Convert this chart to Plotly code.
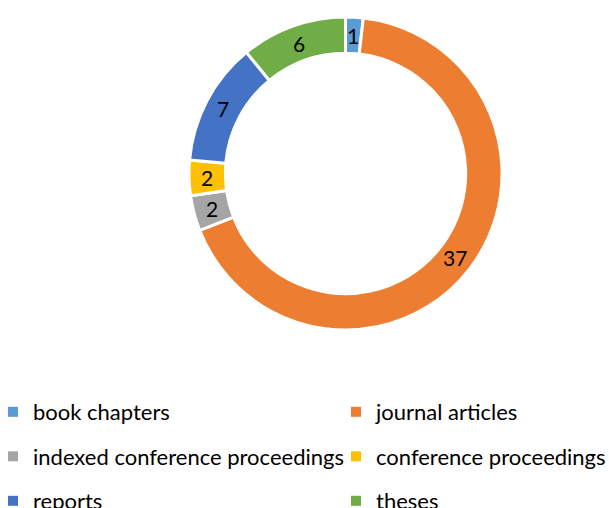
import math
import plotly.graph_objects as go

categories = ["book chapters", "journal articles", "indexed conference proceedings",
              "conference proceedings", "reports", "theses"]
values = [1, 37, 2, 2, 7, 6]
colors = ["#5B9BD5", "#ED7D31", "#A5A5A5", "#FFC000", "#4472C4", "#70AD47"]

W, H = 609, 508
CX, CY, R_OUT, HOLE = 345.5, 173.5, 156.5, 0.768
FONT = "Lato"
LEG_FS = 22

fig = go.Figure(go.Pie(
    labels=categories,
    values=values,
    sort=False,
    direction="clockwise",
    rotation=0,
    hole=HOLE,
    marker=dict(colors=colors, line=dict(color="white", width=3)),
    textinfo="none",
    showlegend=False,
    hovertemplate="%{label}: %{value}<extra></extra>",
    domain=dict(x=[(CX - R_OUT) / W, (CX + R_OUT) / W],
                y=[1 - (CY + R_OUT) / H, 1 - (CY - R_OUT) / H]),
))

# value labels at the middle of each ring segment, placed from the data
total = sum(values)
r_mid = R_OUT * (1 + HOLE) / 2
cum = 0
for v in values:
    ang = 2 * math.pi * (cum + v / 2) / total
    cum += v
    fig.add_annotation(
        x=(CX + r_mid * math.sin(ang)) / W,
        y=1 - (CY - r_mid * math.cos(ang)) / H,
        xref="paper", yref="paper", text=str(v), showarrow=False,
        font=dict(family=FONT, size=21, color="black"),
        xanchor="center", yanchor="middle",
    )

# two-column legend: left column = even entries, right column = odd entries
for i, (cat, col) in enumerate(zip(categories, colors)):
    fig.add_trace(go.Scatter(
        x=[None], y=[None], mode="markers", name=cat,
        marker=dict(symbol="square", size=10, color=col),
        legend="legend" if i % 2 == 0 else "legend2",
        legendgroup=cat, showlegend=True, hoverinfo="skip",
    ))

row_h = 1.3 * LEG_FS + 3
leg_common = dict(
    orientation="v", yanchor="top", xanchor="left",
    y=1 - 391 / H,
    font=dict(family=FONT, size=LEG_FS, color="black"),
    bgcolor="rgba(0,0,0,0)", borderwidth=0,
    tracegroupgap=44.5 - row_h, itemwidth=30,
    traceorder="grouped",
)

fig.update_layout(
    width=W, height=H,
    margin=dict(l=0, r=0, t=0, b=0, autoexpand=False),
    paper_bgcolor="white", plot_bgcolor="white",
    font=dict(family=FONT, size=LEG_FS, color="black"),
    xaxis=dict(visible=False), yaxis=dict(visible=False),
    legend=dict(x=-7 / W, **leg_common),
    legend2=dict(x=336 / W, **leg_common),
)
fig.write_html("out.html", config={"displayModeBar": False},
               post_script="document.body.style.margin='0';")
